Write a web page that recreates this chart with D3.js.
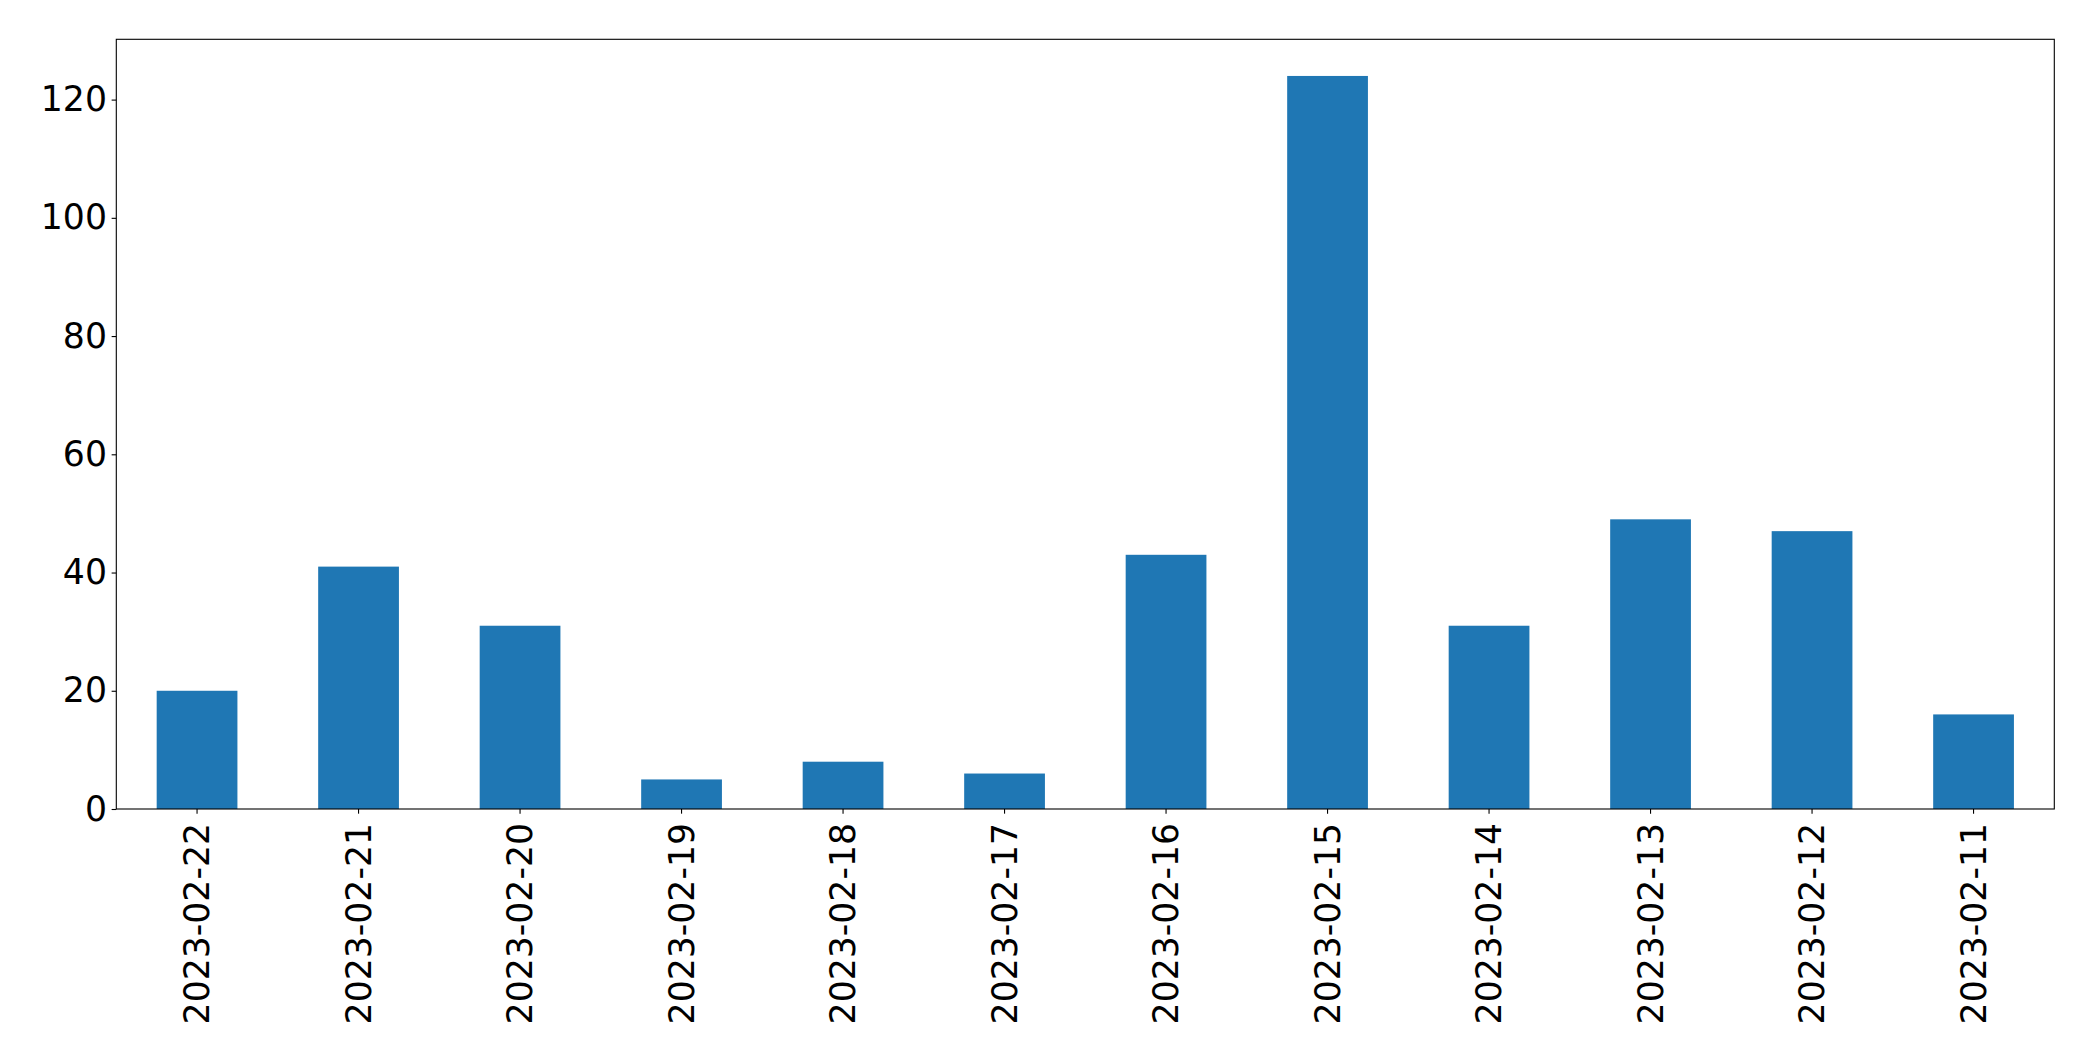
<!DOCTYPE html>
<html>
<head>
<meta charset="utf-8">
<script src="https://cdn.jsdelivr.net/npm/d3@7"></script>
<style>
html,body{margin:0;padding:0;background:#fff;}
svg{display:block;}
</style>
</head>
<body>
<script>
const categories = ["2023-02-22","2023-02-21","2023-02-20","2023-02-19","2023-02-18","2023-02-17","2023-02-16","2023-02-15","2023-02-14","2023-02-13","2023-02-12","2023-02-11"];
const values = [20, 41, 31, 5, 8, 6, 43, 124, 31, 49, 47, 16];
const yTicks = [0, 20, 40, 60, 80, 100, 120];

(function () {
const W = 2093, H = 1061;
const mLeft = 116.3, mRight = 2054.3, mTop = 39.3, mBottom = 809;
const fontSize = 34.67;

const svg = d3.select("body").append("svg").attr("width", W).attr("height", H);

const x = d3.scaleBand().domain(categories).range([mLeft, mRight]).paddingInner(0.5).paddingOuter(0.25);
const y = d3.scaleLinear().domain([0, d3.max(values) * 1.05]).range([mBottom, mTop]);

svg.append("g").selectAll("rect").data(values).join("rect")
  .attr("x", (d, i) => x(categories[i]))
  .attr("width", x.bandwidth())
  .attr("y", d => y(d))
  .attr("height", d => y(0) - y(d))
  .attr("fill", "#1f77b4");

const yAxis = svg.append("g").attr("transform", `translate(${mLeft},0)`)
  .call(d3.axisLeft(y).tickValues(yTicks).tickSize(4.67).tickPadding(4.67).tickFormat(d3.format("d")));
const xAxis = svg.append("g").attr("transform", `translate(0,${mBottom})`)
  .call(d3.axisBottom(x).tickSize(4.67).tickPadding(0));

[yAxis, xAxis].forEach(g => {
  g.select(".domain").remove();
  g.selectAll(".tick line").attr("stroke", "#000").attr("stroke-width", 1.1);
  g.selectAll("text").attr("font-family", "DejaVu Sans").attr("font-size", fontSize).attr("fill", "#000");
});

xAxis.selectAll(".tick text")
  .attr("transform", "rotate(-90)")
  .attr("text-anchor", "end")
  .attr("x", -14)
  .attr("y", 0)
  .attr("dy", "0.35em");

svg.append("rect")
  .attr("x", mLeft).attr("y", mTop)
  .attr("width", mRight - mLeft).attr("height", mBottom - mTop)
  .attr("fill", "none").attr("stroke", "#000").attr("stroke-width", 1.1);
})();
</script>
</body>
</html>
